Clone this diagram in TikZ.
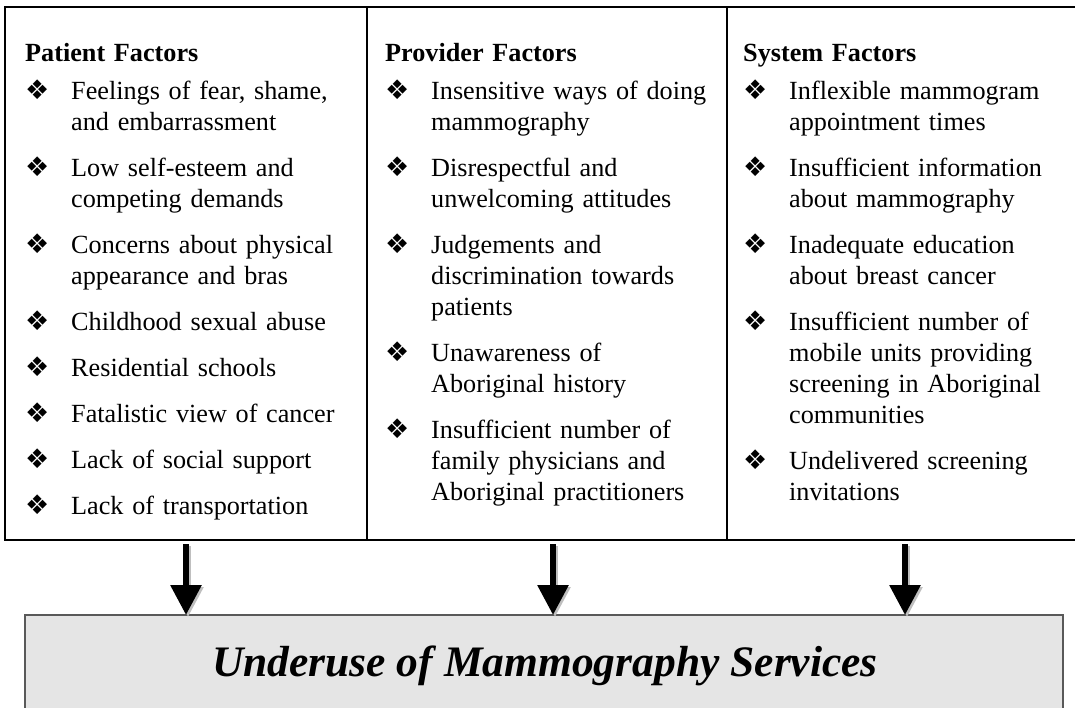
\documentclass[tikz,border=0pt]{standalone}
\usepackage{fontspec}
\setmainfont{Liberation Serif}
\newfontfamily\dingfont{DejaVu Sans}
\usepackage{tikz}
\tikzset{>=latex}
\usetikzlibrary{arrows.meta,calc,positioning}

\tikzset{
  cell/.style={draw=black, line width=2.5pt, minimum width=#1, minimum height=533pt,
    anchor=north west, inner sep=0pt, outer sep=0pt},
  factors/.style={anchor=north west, inner sep=0pt, text width=340pt, align=left,
    font=\fontsize{26.2}{31}\selectfont},
  result/.style={draw=black!65, line width=2pt, fill=black!10, minimum width=1038pt,
    minimum height=130pt, anchor=north, inner sep=0pt, outer sep=0pt},
  flow/.style={line width=6pt, -{Triangle[width=30pt,length=30pt]}},
}
\newcommand{\fhead}[1]{{\bfseries\strut #1\par}\vspace{7pt}}
\newcommand{\fitem}[1]{{\let\\\newline\hangindent=46pt\hangafter=1\noindent
  \makebox[46pt][l]{\raisebox{0pt}{\dingfont\fontsize{27}{27}\selectfont ❖}}#1\par}\vspace{15pt}}

\begin{document}
\begin{tikzpicture}[x=1pt,y=-1pt]
\useasboundingbox (0,0) rectangle (1075,708);
% the three factor columns
\node[cell=362pt] (patient) at (5,7) {};
\node[cell=360pt] (provider) at (patient.north east) {};
\node[cell=356pt] (system) at (provider.north east) {};

\node[factors] (ptext) at ([xshift=20pt,yshift=-32.3pt]patient.north west) {%
  \fhead{Patient Factors}
  \fitem{Feelings of fear, shame,\\and embarrassment}
  \fitem{Low self-esteem and\\competing demands}
  \fitem{Concerns about physical\\appearance and bras}
  \fitem{Childhood sexual abuse}
  \fitem{Residential schools}
  \fitem{Fatalistic view of cancer}
  \fitem{Lack of social support}
  \fitem{Lack of transportation}};
\node[factors] (vtext) at ([xshift=18pt,yshift=-32.3pt]provider.north west) {%
  \fhead{Provider Factors}
  \fitem{Insensitive ways of doing\\mammography}
  \fitem{Disrespectful and\\unwelcoming attitudes}
  \fitem{Judgements and\\discrimination towards\\patients}
  \fitem{Unawareness of\\Aboriginal history}
  \fitem{Insufficient number of\\family physicians and\\Aboriginal practitioners}};
\node[factors] (stext) at ([xshift=16pt,yshift=-32.3pt]system.north west) {%
  \fhead{System Factors}
  \fitem{Inflexible mammogram\\appointment times}
  \fitem{Insufficient information\\about mammography}
  \fitem{Inadequate education\\about breast cancer}
  \fitem{Insufficient number of\\mobile units providing\\screening in Aboriginal\\communities}
  \fitem{Undelivered screening\\invitations}};

% outcome box
\node[result] (underuse) at (544,615) {};
\node[anchor=base, font=\fontsize{43.5}{50}\selectfont\bfseries\itshape] (title) at (545,676)
  {Underuse of Mammography Services};

\foreach \c/\dx in {patient/0, provider/6, system/0}{
  \draw[flow, draw=black!25, shorten <=4pt, transform canvas={xshift=2pt,yshift=-2pt}]
    ([xshift=\dx pt]\c.south) -- ([xshift=\dx pt]\c.south |- underuse.north);
  \draw[flow, shorten <=4pt] ([xshift=\dx pt]\c.south) -- ([xshift=\dx pt]\c.south |- underuse.north);
}
\end{tikzpicture}
\end{document}
